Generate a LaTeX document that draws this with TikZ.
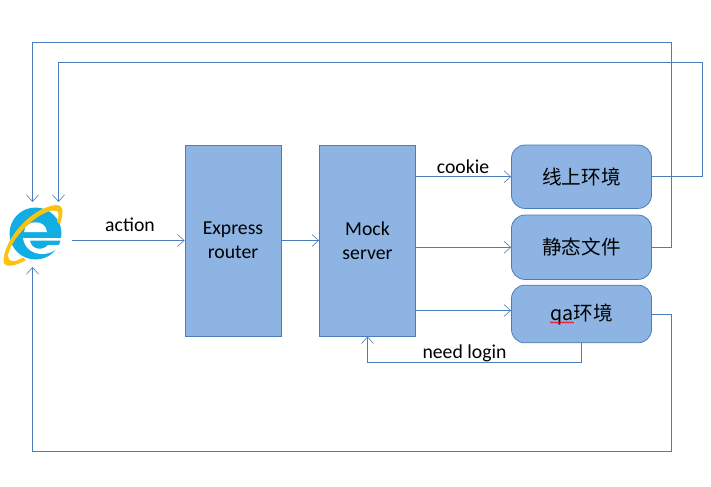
\documentclass[tikz,border=0pt]{standalone}
\usepackage{fontspec}
\usepackage{tikz}
\setmainfont{Carlito}
\newfontfamily\cjk{Noto Sans CJK SC}
\usetikzlibrary{arrows.meta}
\usetikzlibrary{decorations.pathmorphing}
\definecolor{BoxFill}{HTML}{8EB4E3}
\definecolor{BoxLine}{HTML}{4A7EBB}
\definecolor{IeBlue}{HTML}{12ADE2}
\definecolor{IeGold}{HTML}{FBC20F}
\tikzset{
	flow/.style={draw=BoxLine, line width=0.6pt, -{Straight Barb[length=5pt,width=9pt,line width=0.45pt]}},
	block/.style={draw=BoxLine, fill=BoxFill, line width=0.6pt, minimum width=72pt, minimum height=143.25pt, align=center, font=\fontsize{14.8}{18}\selectfont, inner sep=0pt},
	target/.style={draw=BoxLine, fill=BoxFill, line width=0.6pt, rounded corners=10pt, minimum width=105pt, align=center, font=\fontsize{14.7}{18}\selectfont\cjk, inner sep=0pt},
	tag/.style={font=\fontsize{14.8}{18}\selectfont, inner sep=0pt}
}
\begin{document}
\begin{tikzpicture}[x=0.75pt,y=-0.75pt]
	\useasboundingbox (0,0) rectangle (711,486);
	% browser icon
	\fill[IeBlue] (35.5,233.5) circle (26);
	\fill[white] (24,232) .. controls (25,219) and (46,219) .. (47,232) -- cycle;
	\fill[white] (23,238) -- (62,238) -- (62,240.5) -- (30,240.5) .. controls (31,250) and (43,251) .. (48,245) -- (60,245) .. controls (52,258) and (26,258) .. cycle;
	\fill[IeGold] (3.5,261) .. controls (4,240) and (30,208) .. (56,205) .. controls (62,204.5) and (65,209) .. (60,224) -- (57,222) .. controls (60,213) and (59,210) .. (53,210.5) .. controls (34,213) and (9,242) .. (8,256) .. controls (8,262) and (14,263) .. (23,257.5) -- (26,260) .. controls (14,267) and (4,268) .. cycle;
	\coordinate (ietop) at (32.5,202);
	\coordinate (ietopb) at (58.5,202);
	\coordinate (iebot) at (32.5,267);
	\coordinate (ieout) at (71.5,240.5);
	% blocks
	\node[block] (express) at (233,240.5) {\raisebox{-1pt}{Express}\\\raisebox{-1pt}{router}};
	\node[block] (mock) at (367.5,240.5) {\raisebox{-1pt}{Mock}\\\raisebox{-1pt}{server}};
	\node[target, minimum height=47.5pt] (online) at (581.5,176.75) {线上环境};
	\node[target, minimum height=48.25pt] (static) at (581.5,247.25) {静态文件};
	\node[target, minimum height=43.25pt] (qa) at (581.5,314) {qa环境};
	% arrows
	\draw[flow] (ieout) -- (express.west |- ieout);
	\draw[flow] (express) -- (mock);
	\draw[flow] (mock.east |- online.west) -- (online.west);
	\draw[flow] (mock.east |- static.west) -- (static.west);
	\draw[flow] (mock.east |- 0,310.5) -- (qa.west |- 0,310.5);
	\draw[flow] (qa.south) -- (581.5,362.5) -- (367.5,362.5) -- (mock.south);
	\draw[flow] (online.east) -- (702.5,176.75) -- (702.5,62.5) -- (58.5,62.5) -- (ietopb);
	\draw[flow] (static.east) -- (671.5,247.25) -- (671.5,42.5) -- (32.5,42.5) -- (ietop);
	\draw[flow] (qa.east) -- (671.5,314) -- (671.5,451.5) -- (32.5,451.5) -- (iebot);
	% labels
	\node[tag] (action) at (130,225) {action};
	\node[tag] (cookie) at (463,167) {cookie};
	\node[tag] (login) at (464.5,353) {need login};
	\draw[red, line width=0.5pt, decorate, decoration={zigzag, segment length=2pt, amplitude=0.5pt}] (550,322.5) -- (574,322.5);
\end{tikzpicture}
\end{document}
